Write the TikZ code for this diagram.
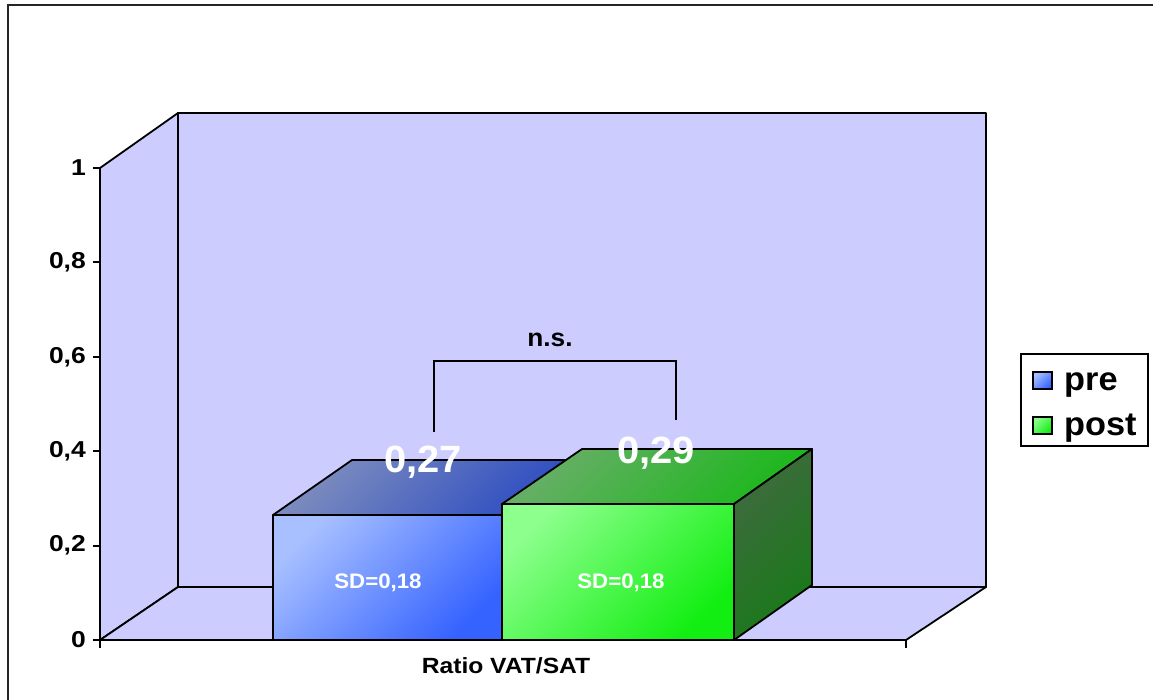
\documentclass[tikz,border=0pt]{standalone}
\usepackage{fontspec}
\setmainfont{Liberation Sans}
\usepackage{graphicx}
\newcommand\widetxt[2][1.12]{\scalebox{#1}[1]{#2}}
\newcommand\fsz[1]{\fontsize{#1}{#1}\selectfont\bfseries}

\definecolor{wall}{HTML}{CCCCFF}
% pre series (blue)
\definecolor{preUL}{HTML}{A8C0FF}
\definecolor{preLR}{HTML}{3563FF}
\definecolor{preTopUL}{HTML}{7E8DBE}
\definecolor{preTopLR}{HTML}{2C4CC2}
% post series (green)
\definecolor{postUL}{HTML}{8CFF8C}
\definecolor{postLR}{HTML}{12EE12}
\definecolor{postTopUL}{HTML}{68AE68}
\definecolor{postTopLR}{HTML}{1CB81C}
\definecolor{postSideUL}{HTML}{3F6A3F}
\definecolor{postSideLR}{HTML}{187A18}

\tikzset{
  edge/.style={line width=1.8pt, line join=round},
  face/.style 2 args={edge, top color=#1, bottom color=#2, shading angle=45},
  axislab/.style={font=\fsz{23}, anchor=east, inner sep=0pt},
  vallab/.style={font=\fsz{38}, text=white, inner sep=0pt},
  sdlab/.style={font=\fsz{21}, text=white, inner sep=0pt},
  leglab/.style={font=\fsz{33}, anchor=base west, inner sep=0pt},
  legkey/.style 2 args={line width=1.3pt, top color=#1, bottom color=#2, shading angle=45},
  bracketline/.style={line width=1.3pt}
}

\begin{document}
\begin{tikzpicture}[x=1pt, y=-1pt]
\useasboundingbox (0,0) rectangle (1153,700);
\clip (0,0) rectangle (1153,700);
\fill[white] (0,0) rectangle (1153,700);
% outer chart frame
\draw[line width=2pt, black!85] (8,5) rectangle (1170,715);

% back wall, side wall and floor
\filldraw[edge, fill=wall] (178,113) rectangle (986,587);
\filldraw[edge, fill=wall] (100,640) -- (100,168) -- (178,113) -- (178,587) -- cycle;
\filldraw[edge, fill=wall] (100,640) -- (178,587) -- (986,587) -- (906,640) -- cycle;

% pre bar (0,27)
\shadedraw[face={preTopUL}{preTopLR}] (273,515) -- (352,460) -- (581,460) -- (502,515) -- cycle;
\shadedraw[face={preTopLR}{preLR}] (502,515) -- (581,460) -- (581,587) -- (502,640) -- cycle;
\shadedraw[face={preUL}{preLR}] (273,515) rectangle (502,640);

% post bar (0,29)
\shadedraw[face={postTopUL}{postTopLR}] (502,504) -- (582,449) -- (812,449) -- (734,504) -- cycle;
\shadedraw[face={postSideUL}{postSideLR}] (734,504) -- (812,449) -- (812,585) -- (734,640) -- cycle;
\shadedraw[face={postUL}{postLR}] (502,504) rectangle (734,640);

% value axis
\foreach \v/\lab [count=\i] in {0/0, 0.2/{0,2}, 0.4/{0,4}, 0.6/{0,6}, 0.8/{0,8}, 1/1} {
  \draw[edge] (93,{640-\v*472}) -- (100,{640-\v*472});
  \node[axislab] (ytick\i) at (86,{640-\v*472}) {\widetxt[1.15]{\lab}};
}
% category axis
\draw[edge] (100,640) -- (100,648);
\draw[edge] (906,640) -- (906,648);
\node[font=\fsz{22}, inner sep=0pt] (cat) at (506,666) {\widetxt[1.12]{Ratio VAT/SAT}};

% data labels
\node[vallab, anchor=base] (vpre) at (423,472) {\widetxt[1.05]{0,27}};
\node[vallab, anchor=base] (vpost) at (656,463) {\widetxt[1.05]{0,29}};
\node[sdlab, anchor=base] (sdpre) at (378,588) {\widetxt[1.06]{SD=0,18}};
\node[sdlab, anchor=base] (sdpost) at (621,588) {\widetxt[1.06]{SD=0,18}};

% significance bracket
\coordinate (bl) at (434,432);
\coordinate (br) at (676,420);
\coordinate (bt) at (555,361);
\draw[bracketline] (bl) -- (bl |- bt) -- (br |- bt) -- (br);
\node[font=\fsz{25}, anchor=base, inner sep=0pt] (ns) at (550,346) {\widetxt[1.05]{n.s.}};

% legend
\draw[line width=1.5pt] (1021,354) rectangle (1148,446);
\shadedraw[legkey={preUL}{preLR}] (1033,372) rectangle (1052,389);
\node[leglab] (lpre) at (1064,390) {\widetxt[1.04]{pre}};
\shadedraw[legkey={postUL}{postLR}] (1033,417) rectangle (1052,434);
\node[leglab] (lpost) at (1064,435) {\widetxt[1.04]{post}};
\end{tikzpicture}
\end{document}
